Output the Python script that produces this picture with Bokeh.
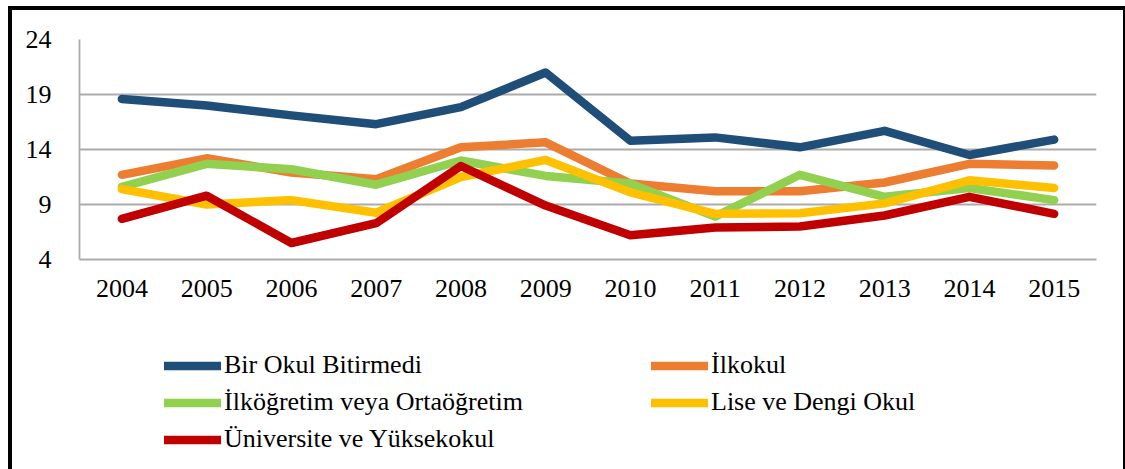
from bokeh.plotting import figure
from bokeh.models import Legend, LegendItem, FixedTicker, Range1d, FactorRange
from bokeh.layouts import column
from bokeh.embed import file_html
from bokeh.resources import INLINE

years = ["2004", "2005", "2006", "2007", "2008", "2009", "2010", "2011", "2012", "2013", "2014", "2015"]
bir_okul_bitirmedi = [18.6, 18.0, 17.1, 16.3, 17.85, 21.0, 14.8, 15.1, 14.2, 15.7, 13.5, 14.9]
ilkokul = [11.7, 13.2, 11.9, 11.3, 14.2, 14.65, 10.9, 10.2, 10.2, 11.0, 12.7, 12.55]
ilkogretim = [10.6, 12.7, 12.2, 10.8, 13.0, 11.6, 10.9, 7.9, 11.7, 9.7, 10.5, 9.4]
lise = [10.4, 9.0, 9.4, 8.25, 11.5, 13.05, 10.1, 8.15, 8.2, 9.1, 11.2, 10.5]
universite = [7.7, 9.8, 5.5, 7.3, 12.5, 8.9, 6.2, 6.9, 7.0, 8.0, 9.7, 8.15]

series_names = ["Bir Okul Bitirmedi", "İlkokul", "İlköğretim veya Ortaöğretim",
                "Lise ve Dengi Okul", "Üniversite ve Yüksekokul"]
series_values = [bir_okul_bitirmedi, ilkokul, ilkogretim, lise, universite]
colors = ["#1F4E79", "#ED7D31", "#92D050", "#FFC000", "#C00000"]
y_ticks = [4, 9, 14, 19, 24]

FONT = "Liberation Serif"
GRID = "#ABABAB"
LW = 8.5

# ---- chart ----
p = figure(width=1125, height=310, x_range=FactorRange(*years), y_range=Range1d(4, 24),
           output_backend="svg", toolbar_location=None,
           min_border_left=79, min_border_right=29, min_border_top=39, min_border_bottom=51)
p.border_fill_color = None
p.background_fill_color = None
p.outline_line_color = None

for vals, c in zip(series_values, colors):
    p.line(years, vals, line_color=c, line_width=LW, line_cap="round", line_join="round")

p.xgrid.grid_line_color = None
p.ygrid.grid_line_color = GRID
p.ygrid.grid_line_width = 1.8
p.yaxis.ticker = FixedTicker(ticks=y_ticks)
p.yaxis.axis_line_color = GRID
p.yaxis.axis_line_width = 1.8
p.xaxis.axis_line_color = GRID
p.xaxis.axis_line_width = 1.8
for ax in (p.xaxis, p.yaxis):
    ax.major_tick_line_color = None
    ax.minor_tick_line_color = None
    ax.major_label_text_font = FONT
    ax.major_label_text_font_size = "26px"
    ax.major_label_text_color = "black"
p.yaxis.major_label_standoff = 22
p.xaxis.major_label_standoff = 14

# ---- legend panel (series drawn out of view; only the legend shows) ----
q = figure(width=1125, height=159, x_range=Range1d(0, 1), y_range=Range1d(1000, 1001),
           output_backend="svg", toolbar_location=None,
           x_axis_location=None, y_axis_location=None, min_border=0)
q.border_fill_color = None
q.background_fill_color = None
q.outline_line_color = None
q.grid.visible = False

idx = list(range(len(years)))
legend_renderers = [q.line(idx, vals, line_color=c, line_width=LW, line_cap="round")
                    for vals, c in zip(series_values, colors)]

def make_legend(which, loc):
    items = [LegendItem(label=series_names[i], renderers=[legend_renderers[i]]) for i in which]
    lg = Legend(items=items, location=loc, orientation="vertical")
    lg.border_line_color = None
    lg.background_fill_alpha = 0
    lg.padding = 0
    lg.margin = 0
    lg.spacing = 6
    lg.glyph_width = 57
    lg.glyph_height = 31
    lg.label_height = 31
    lg.label_standoff = 3
    lg.label_text_font = FONT
    lg.label_text_font_size = "26px"
    lg.label_text_color = "black"
    return lg

q.add_layout(make_legend([0, 2, 4], (85, 14.5)), "center")
q.add_layout(make_legend([1, 3], (572, 51.5)), "center")

layout = column(p, q, spacing=0)
layout.styles = {
    "background": ("linear-gradient(#000,#000) 8px 6px / 4px calc(100% - 6px) no-repeat, "
                   "linear-gradient(#000,#000) 8px 6px / calc(100% - 8px) 4px no-repeat, "
                   "linear-gradient(#000,#000) right 0px top 6px / 2px calc(100% - 6px) no-repeat"),
}

open("out.html", "w").write(file_html(layout, INLINE))
